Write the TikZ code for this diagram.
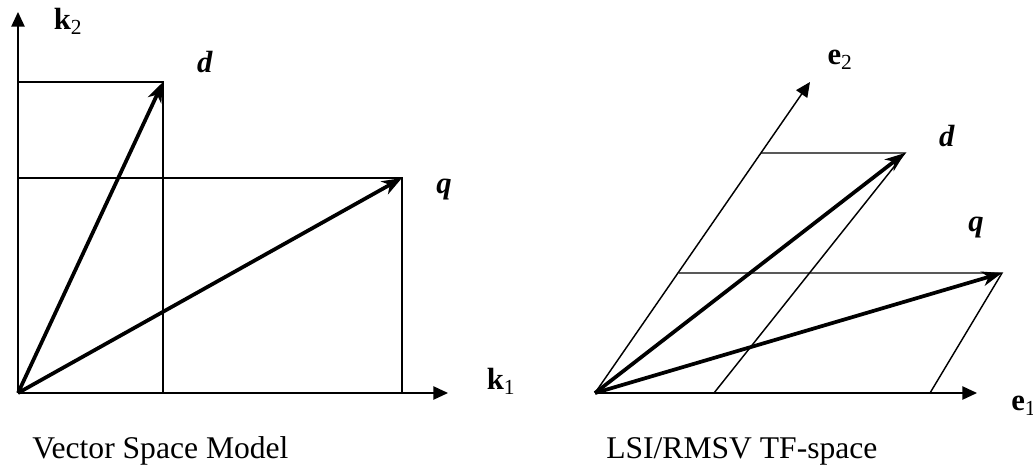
\documentclass[tikz,border=0pt]{standalone}
\usepackage{fontspec}
\setmainfont{Liberation Serif}
\usetikzlibrary{arrows.meta}
\begin{document}
\begin{tikzpicture}[x=0.75pt,y=-0.75pt,
  thinline/.style={line width=1.1pt},
  axis/.style={line width=1.1pt,-{Triangle[length=11pt,width=10pt]}},
  vec/.style={line width=2.8pt,-{Stealth[length=15pt,width=11pt,inset=4.5pt]}},
  lbl/.style={inner sep=0pt,font=\fontsize{23}{27}\selectfont},
  captext/.style={inner sep=0pt,anchor=base west,font=\fontsize{23.7}{28}\selectfont}]
\useasboundingbox (0,0) rectangle (1033,468);
% left diagram
\coordinate (O1) at (18,393);
\coordinate (Y1) at (18,12);
\coordinate (X1) at (448,393);
\coordinate (D1) at (163,82);
\coordinate (Q1) at (402,178);
\coordinate (D1y) at (18,82);
\coordinate (D1x) at (163,393);
\coordinate (Q1y) at (18,178);
\coordinate (Q1x) at (402,393);
\draw[thinline] (D1y) -- (D1) -- (D1x);
\draw[thinline] (Q1y) -- (Q1) -- (Q1x);
\draw[axis] (O1) -- (Y1);
\draw[axis] (O1) -- (X1);
\draw[vec] (O1) -- (D1);
\draw[vec] (O1) -- (Q1);
\node[lbl] (k2) at (68,21) {\textbf{k}\textsubscript{2}};
\node[lbl] (k1) at (501,381) {\textbf{k}\textsubscript{1}};
\node[lbl] (dl1) at (205,62) {\textbf{\textit{d}}};
\node[lbl] (ql1) at (444,190) {\textbf{\textit{q}}};
\node[captext] (cap1) at (32,458) {Vector Space Model};
% right diagram
\coordinate (O2) at (595,393);
\coordinate (X2) at (977,393);
\coordinate (Y2) at (810,82);
\coordinate (D2) at (905,153);
\coordinate (Q2) at (1002,273);
\coordinate (D2y) at (761,153);
\coordinate (D2x) at (714,393);
\coordinate (Q2y) at (679,273);
\coordinate (Q2x) at (930,393);
\draw[thinline] (D2y) -- (D2) -- (D2x);
\draw[thinline] (Q2y) -- (Q2) -- (Q2x);
\draw[axis] (O2) -- (Y2);
\draw[axis] (O2) -- (X2);
\draw[vec] (O2) -- (D2);
\draw[vec] (O2) -- (Q2);
\node[lbl] (e2) at (840,60) {\textbf{e}\textsubscript{2}};
\node[lbl,anchor=west] (e1) at (1011,406) {\textbf{e}\textsubscript{1}};
\node[lbl] (dl2) at (947,136) {\textbf{\textit{d}}};
\node[lbl] (ql2) at (976,228) {\textbf{\textit{q}}};
\node[captext] (cap2) at (606,458) {LSI/RMSV TF-space};
\end{tikzpicture}
\end{document}
